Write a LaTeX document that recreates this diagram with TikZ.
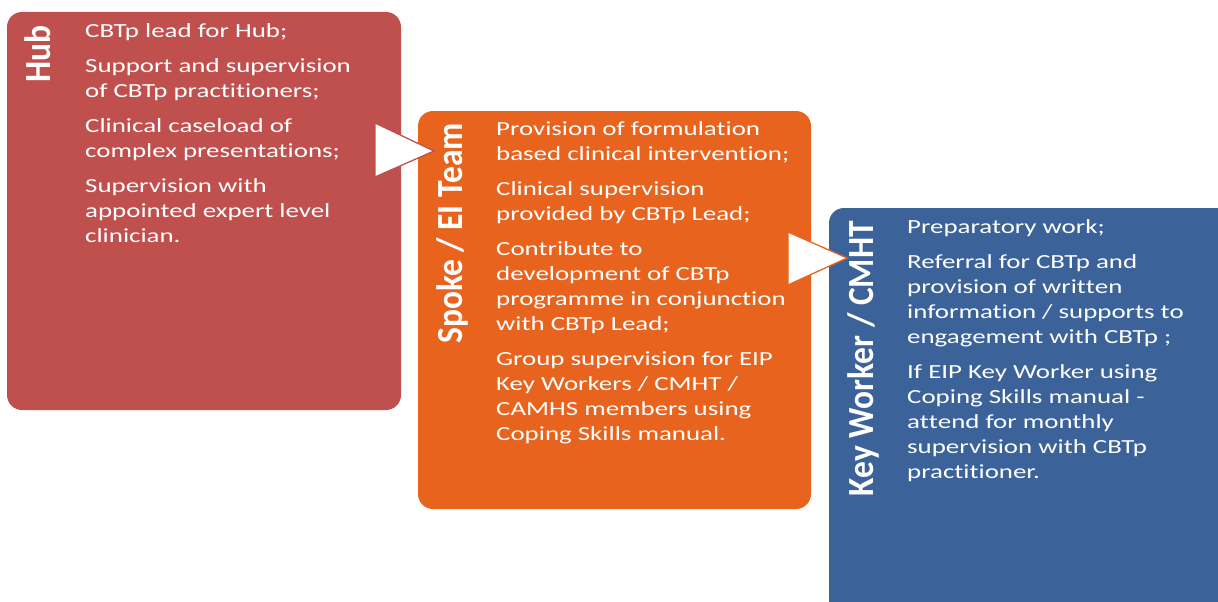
\documentclass[tikz,border=0pt]{standalone}
\usepackage{fontspec}
\newfontfamily\bodyfont[FakeStretch=1.345, Ligatures=NoCommon]{Carlito}
\newfontfamily\labelfont[Ligatures=NoCommon]{Carlito}
\definecolor{hubred}{HTML}{C0504D}
\definecolor{spokeorange}{HTML}{E8641E}
\definecolor{keyblue}{HTML}{3B6399}
\tikzset{
  panel/.style={rounded corners=15pt},
  bodytext/.style={anchor=north west, inner sep=0pt, align=left, text=white,
    font=\bodyfont\fontsize{20pt}{25pt}\selectfont},
  sidelabel/.style={anchor=base east, inner sep=0pt, xscale=1.1, rotate=90, text=white,
    font=\labelfont\bfseries\fontsize{33.5pt}{36pt}\selectfont},
  pointer/.style={fill=white, line width=1.3pt, line join=miter}
}
\newcommand{\firstline}{\rule{0pt}{16pt}}
\newcommand{\tI}{t\kern0pt i\kern0pt}
\newcommand{\tT}{t\kern0pt t\kern0pt}
\begin{document}
\begin{tikzpicture}[x=1pt,y=-1pt]
\useasboundingbox (0,0) rectangle (1218,602);
\clip (0,0) rectangle (1218,602);
% panels
\fill[hubred, panel] (7,12) rectangle (401,410);
\fill[spokeorange, panel] (418,111) rectangle (811,509);
\fill[keyblue, panel] (829,208) rectangle (1250,640);
% side labels
\node[sidelabel] (hublabel) at (50,25) {Hub};
\node[sidelabel] (spokelabel) at (462,123) {Spoke / EI Team};
\node[sidelabel] (keylabel) at (873,221) {Key Worker / CMHT};
% body texts
\node[bodytext] (hubtext) at (85,21) {\firstline CBTp lead for Hub;\\[10pt]
Support and supervision\\ of CBTp prac\tI\tI oners;\\[10pt]
Clinical caseload of\\ complex presenta\tI ons;\\[10pt]
Supervision with\\ appointed expert level\\ clinician.};
\node[bodytext] (spoketext) at (496,119) {\firstline Provision of formula\tI on\\ based clinical interven\tI on;\\[10pt]
Clinical supervision\\ provided by CBTp Lead;\\[10pt]
Contribute to\\ development of CBTp\\ programme in conjunction\\ with CBTp Lead;\\[10pt]
Group supervision for EIP\\ Key Workers / CMHT /\\ CAMHS members using\\ Coping Skills manual.};
\node[bodytext] (keytext) at (907,217) {\firstline Preparatory work;\\[10pt]
Referral for CBTp and\\ provision of wri\tT en\\ information / supports to\\ engagement with CBTp ;\\[10pt]
If EIP Key Worker using\\ Coping Skills manual -\\ a\tT end for monthly\\ supervision with CBTp\\ prac\tI\tI oner.};
% pointers
\coordinate (p1top) at (375,123);
\coordinate (p1bot) at (375,177);
\coordinate (p1tip) at (434,151);
\coordinate (p2top) at (788,232);
\coordinate (p2bot) at (788,285);
\coordinate (p2tip) at (847,258);
\filldraw[pointer, draw=hubred] (p1top) -- (p1tip) -- (p1bot) -- cycle;
\filldraw[pointer, draw=spokeorange] (p2top) -- (p2tip) -- (p2bot) -- cycle;
\end{tikzpicture}
\end{document}
